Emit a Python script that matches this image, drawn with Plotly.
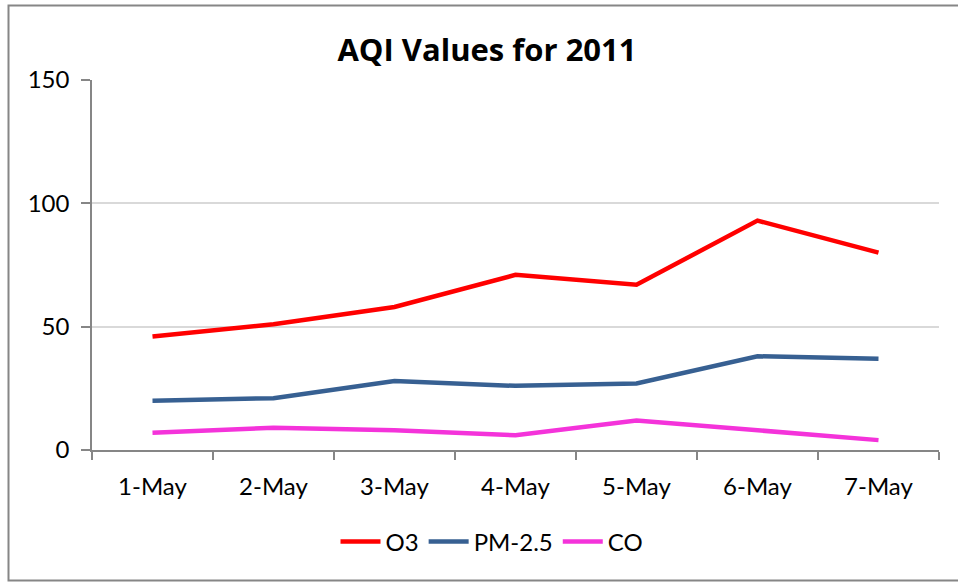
import plotly.graph_objects as go

days = ["1-May", "2-May", "3-May", "4-May", "5-May", "6-May", "7-May"]
o3 = [46, 51, 58, 71, 67, 93, 80]
pm25 = [20, 21, 28, 26, 27, 38, 37]
co = [7, 9, 8, 6, 12, 8, 4]
y_ticks = [0, 50, 100, 150]

W, H = 958, 582
L, R, T, B = 92, 939, 80, 450  # plot area in pixels

font_family = "Lato, 'Open Sans', sans-serif"
title_family = "'Open Sans', Lato, sans-serif"

fig = go.Figure()
for name, vals, color in [("O3", o3, "#FF0000"),
                          ("PM-2.5", pm25, "#376092"),
                          ("CO", co, "#F433DA")]:
    fig.add_trace(go.Scatter(x=days, y=vals, name=name, mode="lines",
                             line=dict(color=color, width=4.5)))

def px_x(p):
    return (p - L) / (R - L)

def px_y(p):
    return (B - p) / (B - T)

fig.update_layout(
    width=W, height=H,
    margin=dict(l=L, r=W - R, t=T, b=H - B),
    paper_bgcolor="white", plot_bgcolor="white",
    font=dict(family=font_family, size=24, color="#000000"),
    title=dict(text="<b>AQI Values for 2011</b>", x=px_x(487), xref="paper",
               xanchor="center", y=1 - 50 / H, yanchor="middle",
               font=dict(size=31, family=title_family, color="#000000")),
    xaxis=dict(type="category", range=[-0.5, 6.5], tickson="boundaries",
               ticks="outside", ticklen=8, tickcolor="#868686", tickwidth=1.5,
               showline=True, linecolor="#868686", linewidth=1.5,
               showgrid=False, zeroline=False, fixedrange=True,
               ticklabelstandoff=14, tickfont=dict(size=24)),
    yaxis=dict(range=[0, 150], tickvals=y_ticks, ticks="outside", ticklen=9,
               tickcolor="#868686", tickwidth=1.5, showline=True,
               linecolor="#868686", linewidth=1.5, showgrid=True,
               gridcolor="#D9D9D9", gridwidth=1.5, zeroline=False,
               ticklabelstandoff=7, tickfont=dict(size=24)),
    legend=dict(orientation="h", x=px_x(492), xanchor="center",
                y=px_y(542), yanchor="middle", font=dict(size=24),
                itemwidth=40, tracegroupgap=0),
    shapes=[dict(type="rect", xref="paper", yref="paper",
                 x0=px_x(8.5), x1=px_x(990), y0=px_y(580.5), y1=px_y(5.5),
                 line=dict(color="#868686", width=2), layer="below")],
    showlegend=True,
)

fig.write_html("out.html")
